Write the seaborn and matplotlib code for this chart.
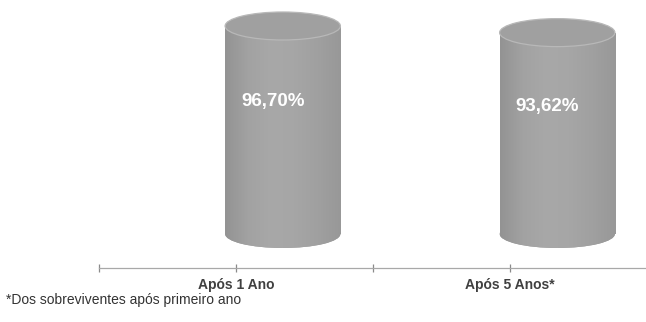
import numpy as np
import matplotlib
matplotlib.use("Agg")
import matplotlib.pyplot as plt
from matplotlib.patches import Ellipse
from matplotlib.colors import LinearSegmentedColormap
import seaborn as sns

# Survival rates
categories = ["Após 1 Ano", "Após 5 Anos*"]
values = [96.70, 93.62]
value_labels = ["96,70%", "93,62%"]
footnote = "*Dos sobreviventes após primeiro ano"

sns.set_theme(style="white")
plt.rcParams["font.family"] = ["Liberation Sans", "DejaVu Sans"]

W, H = 646, 322
fig = plt.figure(figsize=(W / 100, H / 100), dpi=100)
fig.patch.set_facecolor("white")

# Category axis (floor line with ticks)
unit_px = 274.5
ax = fig.add_axes([98.5 / W, (H - 268) / H, 2 * unit_px / W + 0.01, 0.6])
ax.set_xlim(-0.5, 1.5 + 0.01 * W / unit_px)
ax.set_ylim(0, 1)
for side in ("top", "left", "right"):
    ax.spines[side].set_visible(False)
ax.spines["bottom"].set_color("#a8a8a8")
ax.spines["bottom"].set_linewidth(0.9)
ax.set_yticks([])
ax.set_xticks([0, 1])
ax.set_xticklabels(categories, fontsize=10, fontweight="bold", color="#404040")
ax.set_xticks([-0.5, 0.5, 1.5], minor=True)
ax.tick_params(axis="x", which="both", direction="inout", length=6,
               width=0.9, color="#8a8a8a", bottom=True)
ax.tick_params(axis="x", which="major", pad=4)
ax.patch.set_alpha(0)

# Cylinder axes, shifted for the 3D depth offset
ymin, ymax = -10, 108
px_per_unit = 2.151
base_px = 234
ax2 = fig.add_axes([(98.5 + 47) / W, (H - base_px + ymin * px_per_unit) / H,
                    2 * unit_px / W, (ymax - ymin) * px_per_unit / H])
ax2.set_xlim(-0.5, 1.5)
ax2.set_ylim(ymin, ymax)
ax2.axis("off")
ax2.patch.set_alpha(0)

bar_w = 0.42
sns.barplot(x=categories, y=values, ax=ax2, width=bar_w, color="#a0a0a0",
            edgecolor="none", linewidth=0)

ell_h = 14 * 2 / px_per_unit
shade = LinearSegmentedColormap.from_list(
    "cyl", ["#939393", "#a2a2a2", "#a8a8a8", "#a6a6a6", "#a0a0a0", "#989898"])
grad = np.linspace(0, 1, 256).reshape(1, -1)

for patch, val, lab in zip(ax2.patches, values, value_labels):
    x0 = patch.get_x()
    w = patch.get_width()
    h = patch.get_height()
    cx = x0 + w / 2
    # bottom cap (front half shows below body)
    bottom = Ellipse((cx, 0), w, ell_h, facecolor="#9c9c9c", edgecolor="none",
                     zorder=1)
    ax2.add_patch(bottom)
    # shaded body
    img = ax2.imshow(grad, cmap=shade, aspect="auto",
                     extent=(x0, x0 + w, -ell_h / 2, h), zorder=2)
    img.set_clip_path(patch)
    img2 = ax2.imshow(grad, cmap=shade, aspect="auto",
                      extent=(x0, x0 + w, -ell_h / 2, 0), zorder=2)
    img2.set_clip_path(bottom)
    patch.set_alpha(0)
    # top cap
    top = Ellipse((cx, h), w, ell_h, facecolor="#a0a0a0", edgecolor="#b8b8b8",
                  linewidth=0.9, zorder=3)
    ax2.add_patch(top)
    ax2.text(cx - 10 / unit_px, val * 0.635, lab, ha="center",
             va="center", color="white", fontsize=13.5, fontweight="bold",
             zorder=4)

ax2.set_xlim(-0.5, 1.5)
ax2.set_ylim(ymin, ymax)

fig.text(6 / W, (H - 300) / H, footnote, ha="left", va="center",
         fontsize=10, color="#333333")

fig.savefig("out.png", dpi=100, facecolor="white")
